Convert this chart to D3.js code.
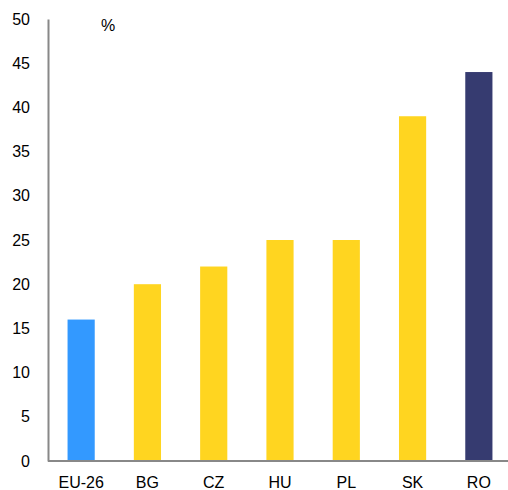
<!DOCTYPE html>
<html>
<head>
<meta charset="utf-8">
<script src="https://cdn.jsdelivr.net/npm/d3@7"></script>
<style>
  body { margin: 0; background: #fff; }
  text { font-family: "Liberation Sans", Arial, sans-serif; }
</style>
</head>
<body>
<div id="chart"></div>
<script>
// data
const countries = ["EU-26", "BG", "CZ", "HU", "PL", "SK", "RO"];
const shares = [16, 20, 22, 25, 25, 39, 44];
const barColors = ["#3399ff", "#ffd520", "#ffd520", "#ffd520", "#ffd520", "#ffd520", "#363b70"];
const yTicks = [0, 5, 10, 15, 20, 25, 30, 35, 40, 45, 50];

const width = 508, height = 490;
const margin = { top: 19, right: -4, bottom: 29, left: 48 };

const svg = d3.select("#chart")
    .append("svg")
    .attr("width", width)
    .attr("height", height);

const x = d3.scaleBand()
    .domain(countries)
    .range([margin.left, width - margin.right])
    .paddingInner(0.59)
    .paddingOuter(0.295);

const y = d3.scaleLinear()
    .domain([0, 50])
    .range([height - margin.bottom, margin.top]);

// bars
svg.selectAll(".bar")
    .data(countries)
    .enter().append("rect")
    .attr("class", "bar")
    .attr("x", d => x(d))
    .attr("width", x.bandwidth())
    .attr("y", (d, i) => y(shares[i]))
    .attr("height", (d, i) => y(0) - y(shares[i]))
    .attr("fill", (d, i) => barColors[i]);

// y axis
const yAxis = svg.append("g")
    .attr("transform", `translate(${margin.left},0)`)
    .call(d3.axisLeft(y).tickValues(yTicks).tickSize(0).tickPadding(18));
yAxis.select(".domain").attr("stroke", "#888").attr("stroke-width", 2);
yAxis.selectAll("text").attr("font-size", 16).attr("fill", "#000")
    .style("font-family", "Liberation Sans, Arial, sans-serif");

// x axis
const xAxis = svg.append("g")
    .attr("transform", `translate(0,${y(0)})`)
    .call(d3.axisBottom(x).tickSize(0).tickPadding(16));
xAxis.select(".domain").attr("stroke", "#888").attr("stroke-width", 2)
    .attr("d", `M${margin.left},0H${width}`);
xAxis.selectAll("text").attr("font-size", 16).attr("fill", "#000")
    .style("font-family", "Liberation Sans, Arial, sans-serif");

// unit label
svg.append("text")
    .attr("x", 108)
    .attr("y", 31)
    .attr("text-anchor", "middle")
    .attr("font-size", 16)
    .text("%");
</script>
</body>
</html>
